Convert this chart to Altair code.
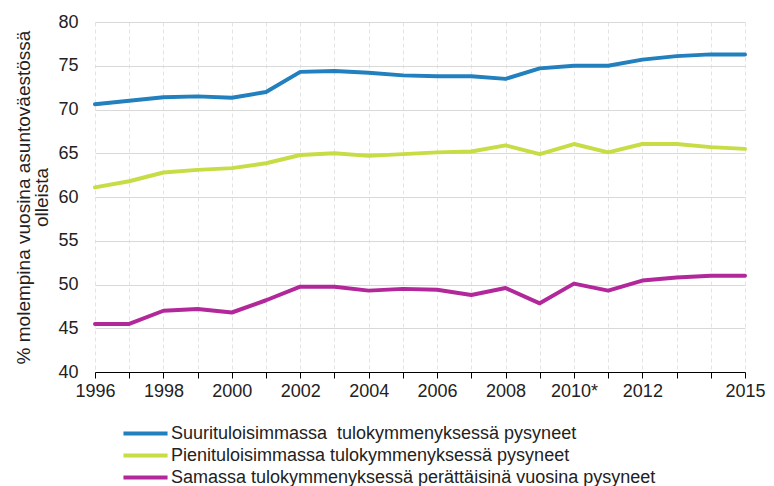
import altair as alt
import pandas as pd

years = list(range(1996, 2016))
suuri = [70.6, 71.0, 71.4, 71.5, 71.35, 72.0, 74.3, 74.4, 74.2, 73.9,
         73.8, 73.8, 73.5, 74.7, 75.0, 75.0, 75.7, 76.1, 76.3, 76.3]
pieni = [61.1, 61.8, 62.8, 63.1, 63.3, 63.85, 64.8, 65.0, 64.7, 64.9,
         65.1, 65.2, 65.9, 64.9, 66.05, 65.1, 66.05, 66.05, 65.7, 65.5]
samassa = [45.5, 45.5, 47.0, 47.2, 46.8, 48.2, 49.75, 49.75, 49.3, 49.5,
           49.4, 48.8, 49.6, 47.85, 50.1, 49.3, 50.45, 50.8, 51.0, 51.0]

series_names = [
    "Suurituloisimmassa\u00a0 tulokymmenyksessä pysyneet",
    "Pienituloisimmassa tulokymmenyksessä pysyneet",
    "Samassa tulokymmenyksessä perättäisinä vuosina pysyneet",
]
series_values = [suuri, pieni, samassa]
colors = ["#2180bd", "#c8dc45", "#b2289a"]
labelled_years = [1996, 1998, 2000, 2002, 2004, 2006, 2008, 2010, 2012, 2015]
y_ticks = [40, 45, 50, 55, 60, 65, 70, 75, 80]
y_title = ["% molempina vuosina asuntoväestössä", "olleista"]

rows = []
for name, vals in zip(series_names, series_values):
    for yr, v in zip(years, vals):
        rows.append({"year": yr, "value": v, "series": name})
df = pd.DataFrame(rows)

label_expr = (
    "datum.value == 2010 ? '2010*' : (indexof(["
    + ",".join(str(y) for y in labelled_years)
    + "], datum.value) >= 0 ? format(datum.value, 'd') : '')"
)

FONT = "Liberation Sans"
TXT = "#222222"

chart = (
    alt.Chart(df)
    .mark_line(strokeWidth=4, strokeCap="round", strokeJoin="round")
    .encode(
        x=alt.X(
            "year:Q",
            scale=alt.Scale(domain=[1996, 2015], nice=False, zero=False),
            axis=alt.Axis(
                title=None,
                values=years,
                labelExpr=label_expr,
                grid=True,
                gridDash=[4, 3],
                gridColor="#e3e3e3",
                domainColor="#000000",
                tickColor="#000000",
                tickSize=6,
                labelPadding=4,
                labelFont=FONT,
                labelFontSize=18,
                labelColor=TXT,
                labelOverlap=False,
                labelFlush=False,
            ),
        ),
        y=alt.Y(
            "value:Q",
            scale=alt.Scale(domain=[40, 80], nice=False, zero=False),
            axis=alt.Axis(
                title=y_title,
                values=y_ticks,
                grid=True,
                gridColor="#d9d9d9",
                domain=False,
                ticks=False,
                labelPadding=17,
                labelFont=FONT,
                labelFontSize=18,
                labelColor=TXT,
                titleFont=FONT,
                titleFontSize=19,
                titleFontWeight="normal",
                titleColor=TXT,
                titleLineHeight=18.5,
                titleX=-72,
                titleY=175,
                titleBaseline="middle",
                titleAngle=270,
            ),
        ),
        color=alt.Color(
            "series:N",
            sort=series_names,
            scale=alt.Scale(domain=series_names, range=colors),
            legend=alt.Legend(
                title=None,
                orient="none",
                legendX=38,
                legendY=399,
                symbolType="M-2.1,0H2.1",
                symbolSize=441,
                symbolStrokeWidth=4,
                symbolFillColor="transparent",
                labelFont=FONT,
                labelFontSize=18,
                labelColor=TXT,
                labelLimit=800,
                labelOffset=13,
                rowPadding=0,
                padding=0,
            ),
        ),
    )
    .properties(
        width=650,
        height=350,
        autosize=alt.AutoSizeParams(type="none"),
        padding={"left": 87, "top": 14, "right": 21, "bottom": 130},
    )
    .configure_view(stroke=None)
)

chart.save("out.html", embed_options={"renderer": "svg", "actions": False})
